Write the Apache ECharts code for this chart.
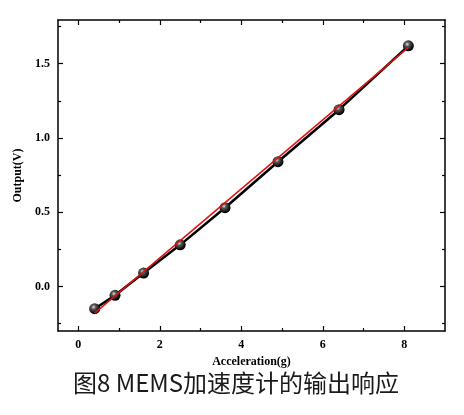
<!DOCTYPE html>
<html><head><meta charset="utf-8">
<script src="https://cdn.jsdelivr.net/npm/echarts@6/dist/echarts.min.js"></script>
<style>html,body{margin:0;padding:0;background:#fff}#c{width:464px;height:415px}</style>
</head><body><div id="c"></div>
<script>
const accel = [0.4, 0.9, 1.6, 2.5, 3.6, 4.9, 6.4, 8.1];
const output = [-0.15, -0.06, 0.09, 0.28, 0.53, 0.84, 1.19, 1.62];
const fitX = [0.4, 8.1];
const fitY = [-0.18, 1.61];
const xTicks = [0, 2, 4, 6, 8];
const xMinorTicks = [1, 3, 5, 7];
const yTicks = [0.0, 0.5, 1.0, 1.5];
const yMinorTicks = [-0.25, 0.25, 0.75, 1.25, 1.75];
const xName = 'Acceleration(g)';
const yName = 'Output(V)';
const caption = '图8 MEMS加速度计的输出响应';

const chart = echarts.init(document.getElementById('c'));
const serif = '"Liberation Serif","DejaVu Serif",serif';
const lblStyle = {fontFamily: serif, fontWeight: 'bold', fontSize: 12, color: '#000'};
const X0 = -0.5, X1 = 9, Y0 = -0.3, Y1 = 1.794;

function mkAxis(kind, pos, ticks, len, showLine, label, extra) {
  const lo = kind === 'x' ? X0 : Y0, hi = kind === 'x' ? X1 : Y1;
  return Object.assign({
    type: 'value', min: lo, max: hi, position: pos,
    axisLine: {show: showLine, onZero: false, lineStyle: {color: '#000', width: 1.5}},
    axisTick: {show: true, inside: true, length: len, customValues: ticks, lineStyle: {color: '#000', width: 1.2}},
    axisLabel: label ? Object.assign({show: true, margin: 8, customValues: ticks,
      formatter: v => kind === 'x' ? String(v) : Number(v).toFixed(1)}, lblStyle) : {show: false},
    splitLine: {show: false}
  }, extra || {});
}

chart.setOption({
  animation: false,
  backgroundColor: '#fff',
  grid: {left: 58, top: 20, right: 19, bottom: 84},
  title: {text: caption, left: 68, top: 366, textStyle: {fontFamily: '"Noto Sans CJK SC","Noto Sans",sans-serif', fontWeight: 'normal', fontSize: 24, color: '#1a1a1a'}},
  xAxis: [
    mkAxis('x', 'bottom', xTicks, 5, true, true, {name: xName, nameLocation: 'middle', nameGap: 22,
      nameTextStyle: {fontFamily: serif, fontWeight: 'bold', fontSize: 12, color: '#000'}}),
    mkAxis('x', 'bottom', xMinorTicks, 3, false, false),
    mkAxis('x', 'top', xTicks, 5, true, false),
    mkAxis('x', 'top', xMinorTicks, 3, false, false)
  ],
  yAxis: [
    mkAxis('y', 'left', yTicks, 5, true, true, {name: yName, nameLocation: 'middle', nameGap: 33, nameRotate: 90,
      nameTextStyle: {fontFamily: serif, fontWeight: 'bold', fontSize: 12, color: '#000'}}),
    mkAxis('y', 'left', yMinorTicks, 3, false, false),
    mkAxis('y', 'right', yTicks, 5, true, false),
    mkAxis('y', 'right', yMinorTicks, 3, false, false)
  ],
  series: [
    {type: 'line', data: accel.map((x, i) => [x, output[i]]), symbol: 'circle', symbolSize: 11,
      lineStyle: {color: '#000', width: 2.5},
      itemStyle: {borderWidth: 0, color: new echarts.graphic.RadialGradient(0.4, 0.35, 0.6, [
        {offset: 0, color: '#ddd'}, {offset: 0.35, color: '#555'}, {offset: 1, color: '#000'}])},
      z: 2},
    {type: 'line', data: fitX.map((x, i) => [x, fitY[i]]), symbol: 'none',
      lineStyle: {color: '#e01010', width: 1.5}, z: 3}
  ]
});
</script></body></html>
